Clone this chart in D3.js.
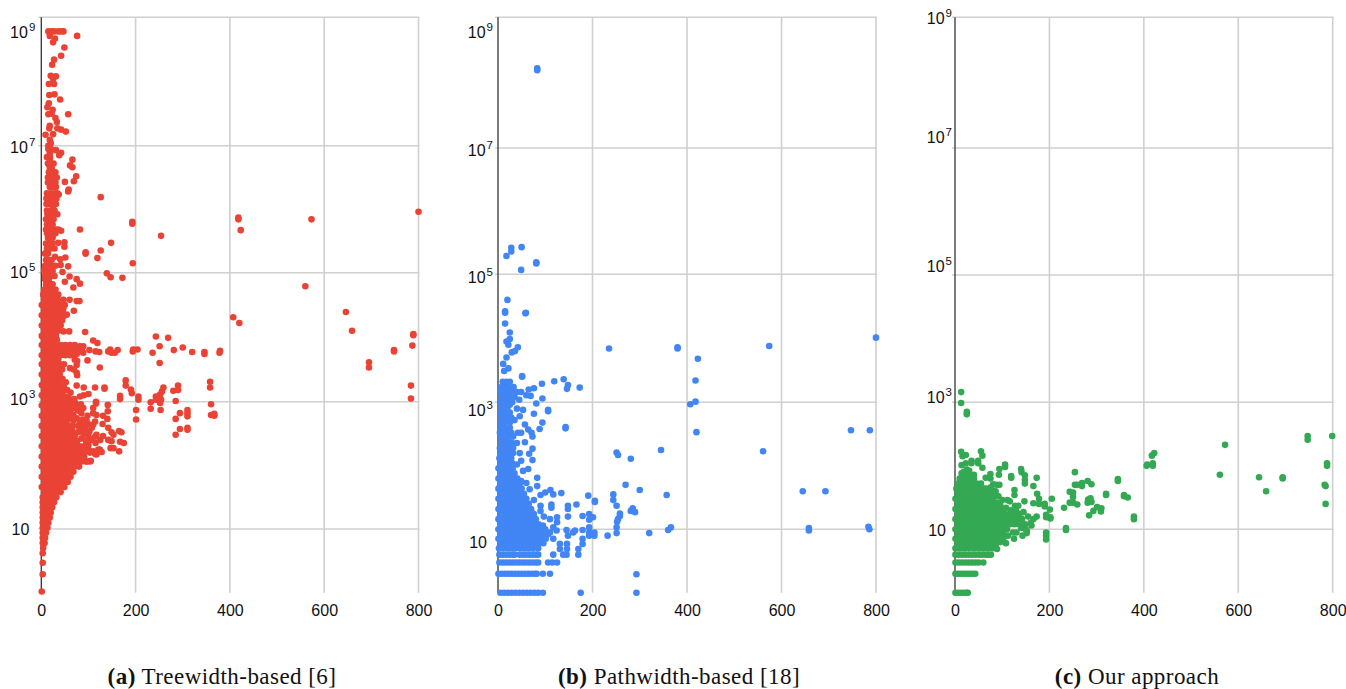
<!DOCTYPE html>
<html>
<head>
<meta charset="utf-8">
<script src="https://cdn.jsdelivr.net/npm/d3@7"></script>
<style>
  body { margin: 0; background: white; }
  svg { display: block; }
</style>
</head>
<body>
<div id="chart"></div>
<script>
// values, y is given as its power of ten
// rows: [power, x, x, x ...]   scatter: [x, power]
const xTicks = [0, 200, 400, 600, 800]
const yTicks = [1, 3, 5, 7, 9]
const captionTags = ['(a)', '(b)', '(c)']
const captionTexts = [' Treewidth-based [6]', ' Pathwidth-based [18]', ' Our approach']

const treewidthRows = [
  [0.02,1],[0.29,3],[0.47,3],[0.62,3],[0.7,4],[0.78,3,7],[0.86,3,8],[0.94,3,10],[1.02,3,8,13],[1.1,3,9,15],
  [1.18,3,9,15,18],[1.26,3,9,15,20],[1.34,3,10,17,23],[1.42,3,10,18,27],[1.5,3,11,21,32],[1.58,6,16,26,36,41],
  [1.66,1,11,21,31,41,49],[1.74,6,16,26,36,46,56],[1.82,1,11,21,31,41,51,62],[1.9,6,16,26,36,46,56,68],
  [1.98,1,11,21,31,41,51,61,71,80],[2.06,6,16,26,36,46,56,66,76,86,96,103],[2.14,1,11,21,31,41,51,61,71,81,91],
  [2.22,6,16,26,36,46,56,66,76,86],[2.3,1,11,21,31,41,51,61,71,81],[2.38,6,16,26,36,46,56,66,76],
  [2.46,1,11,21,31,41,51,61,71],[2.54,6,16,26,36,46,56,66],[2.62,1,11,21,31,41,51,58],
  [2.7,6,16,26,36,46,54],[2.78,1,11,21,31,41,50],[2.86,6,16,26,36,46],[2.94,1,11,21,31,41],[3.02,6,16,26,36,44],
  [3.1,1,11,21,31,41],[3.18,6,16,26,36],[3.26,1,11,21,31,40],[3.34,6,16,26,36],[3.42,1,11,21,31,39],[3.5,6,16,26,36,44],
  [3.58,1,11,21,31,40,48],[3.66,6,16,26,36],[3.72,1,11,21,31,41,51,61,71],[3.8,6,16,26,36,46,56,66,76,86],
  [3.88,1,11,21,31,41,51,61,71],[3.96,6,16,26,33],[4.02,1,11,21,31],[4.1,6,16,26,36],[4.18,1,11,21,31,41],[4.26,6,16,26,36,44],
  [4.34,1,11,21,31,41],[4.42,6,16,26,36,46],[4.5,1,11,21,31,40,50],[4.58,6,16,26,35,47,60],[4.66,4,12,20,28,36],
  [4.74,6,14,22,30],[4.82,10,18,24],[4.9,8,16],[4.95,8,14,20,28],[5.03,6,12,18,24],[5.11,8,16,24,30],[5.2,10,14,22],
  [5.3,8,14],[5.38,12,20],[5.46,10,18,24],
  [5.55,14,18,24],[5.62,12,18,24,30],[5.68,10,16,22,30,36],[5.76,12,18,24],[5.84,10,18,26],[5.92,16,22],[5.98,12,20,28],[6.08,18,24],
  [6.17,18,26,32],[6.25,12,20,28,34],[6.35,18,25,31],[6.42,14,22,30],[6.5,14,20,28,33],[6.58,16,24,30],[6.65,18,22],
  [6.72,14,20,26],[6.82,12,18],[6.95,15,20]
]
const treewidthScatter = [
  [15,8.78],[22,8.78],[27,8.78],[36,8.78],[42,8.78],[47,8.78],[18,8.71],[76,8.71],[29,8.67],[25,8.61],[49,8.53],[42,8.4],
  [27,8.34],[23,8.26],[20,8.09],[31,8.08],[25,8.04],[16,7.96],[27,7.96],[28,7.8],[17,7.79],[40,7.72],[16,7.66],[13,7.6],
  [24,7.56],[15,7.49],[22,7.5],[57,7.49],[30,7.43],[33,7.37],[18,7.31],[34,7.27],[42,7.25],[52,7.22],[17,7.27],[9,7.17],
  [25,7.18],[18,7.09],[15,7],[20,7.04],[31,6.93],[18,6.88],[42,6.89],[38,6.85],[66,6.78],[18,6.78],[17,6.7],[61,6.69],
  [66,6.66],[74,6.52],[69,6.44],[50,6.43],[58,6.31],[57,6.28],[126,6.19],[37,6.23],[11,6.17],[11,6.08],[31,6.08],[25,6],
  [34,5.92],[13,5.92],[193,5.8],[193,5.77],[82,5.68],[42,5.66],[254,5.58],[49,5.48],[36,5.47],[148,5.47],[49,5.41],[28,5.38],
  [126,5.35],[94,5.32],[94,5.3],[11,5.32],[119,5.23],[51,5.24],[29,5.25],[40,5.21],[41,5.12],[57,5.1],[194,5.15],[45,5.01],
  [139,4.99],[147,4.93],[172,4.92],[60,4.94],[75,4.9],[82,4.83],[50,4.86],[68,4.77],[47,4.09],[59,4.09],[93,4.08],[243,4.01],
  [269,3.99],[110,3.95],[119,3.91],[251,3.86],[300,3.84],[146,3.81],[142,3.78],[149,3.76],[162,3.8],[156,3.76],[195,3.81],
  [204,3.81],[194,3.78],[123,3.77],[115,3.78],[102,3.8],[236,3.76],[281,3.8],[320,3.77],[346,3.77],[346,3.74],[379,3.79],
  [378,3.76],[251,3.6],[98,3.64],[124,3.53],[71,3.65],[76,3.63],[75,3.57],[61,3.52],[69,3.5],[75,3.45],[76,3.41],[179,3.33],
  [179,3.25],[75,3.25],[90,3.22],[114,3.22],[134,3.22],[134,3.2],[167,3.09],[167,3.04],[190,3.19],[192,3.13],[206,3.08],[206,3.03],
  [259,3.22],[256,3.16],[252,3.11],[243,3.08],[243,3.03],[254,3.03],[252,2.98],[232,2.99],[232,2.89],[253,2.87],[201,2.87],[201,2.72],
  [290,3.25],[280,3.17],[290,3.18],[285,3.01],[285,2.73],[294,2.82],[310,2.87],[310,2.82],[310,2.77],[294,2.57],[310,2.59],[310,2.56],
  [285,2.48],[358,3.31],[358,3.22],[360,2.96],[360,2.79],[367,2.81],[367,2.78],[418,5.87],[418,5.84],[423,5.67],[573,5.84],[800,5.96],
  [560,4.79],[407,4.31],[420,4.22],[646,4.39],[659,4.1],[789,4.03],[789,4.05],[787,3.87],[748,3.78],[748,3.8],[695,3.61],[695,3.53],
  [784,3.25],[784,3.05],[141,2.95],[141,2.85],[116,3],[116,2.97],[131,2.78],[140,2.73],[130,2.65],[142,2.59],[149,2.52],[131,2.46],
  [153,2.48],[142,2.4],[149,2.38],[165,2.54],[170,2.52],[167,2.37],[175,2.35],[147,2.27],[153,2.27],[165,2.22],[121,2.25],[110,2.9],
  [110,2.82],[117,2.79],[114,2.69],[107,2.59],[110,2.64],[102,2.53],[117,2.48],[114,2.45],[98,2.78],[88,2.72],[89,2.9],[76,2.94],
  [64,3],[57,3],[82,3.08],[100,3.12],[90,3.1],[68,2.9],[75,2.74],[61,2.82],[103,2.2],[114,2.18],[124,2.25],[110,2.22],[96,2.06],
  [105,2.07],[117,2.17],[128,2.21],
  [45,3.35],[52,3.3],[48,3.22],[55,3.18],[62,3.14],[45,3.14],[50,3.08],[58,3.06],[70,3.04],[52,2.98],[72,2.98],[84,2.96],[48,2.9],[58,2.92],
  [78,2.86],[58,2.84],[68,2.8],[85,2.82],[60,2.74],[68,2.7],[82,2.68],[96,2.7],[66,2.62],[78,2.62],[90,2.62],[102,2.64],[84,2.56],[94,2.56],
  [78,2.52],[90,2.48],[100,2.46],[85,2.42],[95,2.38],[105,2.4],[90,2.3],[100,2.32],[115,2.35],[125,2.4],[100,2.25],[92,2.22],
  [82,3.86],[89,3.86],[82,3.78],[89,3.76],[75,3.74],[54,4.35],[47,4.32],[69,4.41],[75,4.56],[81,4.56],[47,4.46]
]

const pathwidthRows = [
  [0,5,13,21,29,37,45,53,61,69,77,85,95],[0.3,1,8,15,22,29,36,43,50,57,64,71,78,82,95,110],
  [0.477,3,10,17,24,31,38,45,52,59,66,73,80,85,106,115,125],[0.6,3,10,17,24,31,35,46,53,60,67,74,80,85,117,138,145,170],
  [0.7,2,11,20,29,38,47,56,65,74,85],[0.78,6,16,26,36,46,56,66,76,86,96],[0.85,1,11,21,31,41,51,61,71,81,91,101],
  [0.92,6,16,26,36,46,56,66,76,86,96,106],[1,1,11,21,31,41,51,61,71,81,91,100],[1.08,6,16,26,36,46,56,66,76,86],
  [1.16,1,11,21,31,41,51,61,70,80],[1.24,6,16,26,36,46,56,66,76],[1.32,1,11,21,31,41,50,60,70],[1.4,6,16,26,36,45,55,65],
  [1.48,1,11,21,31,40,50,60],[1.56,6,16,26,35,45,55],[1.64,1,11,21,30,40,50],[1.72,6,16,26,36,46],[1.8,1,11,21,31,41],[1.88,6,16,25,35],
  [1.96,1,11,21,31],[2.04,6,16,22,30],[2.12,3,11,20,28],[2.2,6,14,24,32],[2.28,4,12,22,32],[2.36,8,16,22,30],[2.44,6,13,23],
  [2.52,4,12,18,28],[2.6,7,15,25],[2.68,5,13,25],[2.76,8,18,28],[2.84,5,13,25],[2.92,8,14,20],[3,6,14,22,30],
  [3.08,8,16,24,35],[3.16,5,12,20,30,40],[3.24,7,15,23,33],[3.32,10,18,25]
]
const pathwidthScatter = [
  [175,0],[293,0],[293,0.29],[25,2.96],[45,3.04],[40,2.9],[53,2.88],[46,2.78],[35,2.72],[57,2.65],[64,2.57],[71,2.52],[73,2.46],
  [42,2.52],[49,2.52],[32,2.46],[57,2.37],[40,2.36],[73,2.27],[66,2.19],[46,2.2],[73,2.09],[64,1.95],[49,2.08],[40,2.02],[53,1.92],
  [83,1.81],[83,1.68],[60,1.73],[49,1.76],[67,1.63],[76,1.46],[90,1.54],[100,1.58],[111,1.62],[117,1.55],[134,1.57],[90,1.37],[90,1.29],
  [113,1.39],[113,1.34],[71,1.27],[97,1.2],[110,1.16],[125,1.19],[125,1.11],[95,1.06],[117,1.03],[124,0.98],[110,0.95],[117,0.85],
  [131,0.69],[146,0.69],[170,0.69],[131,0.77],[146,0.77],[179,0.77],[179,0.85],[232,0.9],[251,0.94],[251,1.03],[252,1.12],[254,1.16],
  [258,1.21],[258,1.25],[193,0.95],[193,0.9],[204,0.95],[204,0.9],[193,1.03],[179,0.99],[163,0.98],[159,0.95],[148,0.9],[145,0.99],
  [201,1.19],[193,1.24],[193,1.15],[179,1.21],[148,1.37],[148,1.32],[148,1.2],[166,1.39],[205,1.45],[205,1.43],[191,1.53],[244,1.55],
  [244,1.46],[251,1.37],[300,1.62],[270,1.7],[357,1.54],[281,1.29],[285,1.33],[290,1.27],[320,0.94],[360,0.99],[366,1.03],[345,2.25],
  [281,2.11],[251,2.21],[254,2.17],[143,2.61],[143,2.59],[106,2.86],[106,2.88],[94,3.06],[81,2.98],[76,2.82],[94,2.68],[88,2.58],[173,3.23],
  [146,3.21],[148,3.27],[139,3.36],[119,3.33],[93,3.29],[76,3.22],[65,3.2],[69,3.1],[60,3.11],[49,3.16],[51,3.4],[235,3.84],[380,3.86],
  [380,3.84],[58,4.39],[50,5.43],[28,5.42],[28,5.36],[18,5.29],[81,5.19],[81,5.17],[49,5.07],[20,4.6],[15,4.42],[15,4.4],[59,4.4],[15,4.23],
  [25,4.09],[25,3.99],[18,3.95],[22,3.9],[42,3.86],[36,3.8],[29,3.78],[18,3.7],[11,3.6],[22,3.53],[13,3.49],[51,3.41],[83,8.22],[83,8.19],
  [574,3.88],[423,3.68],[418,3.34],[418,3.01],[407,2.97],[420,2.53],[561,2.23],[645,1.6],[693,1.6],[658,0.98],[658,1.02],
  [747,2.56],[787,2.56],[784,1.04],[786,1],[800,4.01]
]

const ourRows = [
  [0,1,7,13,19,25,27],[0.3,1,7,13,19,25,31,37,43],[0.477,1,8,15,22,29,36,43,50,60],[0.6,1,8,15,22,29,36,43,50,57,64,70,76],
  [0.7,1,10,20,30,40,50,60,70,80],[0.78,6,16,26,36,46,56,66,76,84],[0.85,1,11,21,31,41,51,61,71,81,90],
  [0.92,6,16,26,36,46,56,66,76,86,96,102],[1,1,11,21,31,41,51,61,71,81,91,101,110],
  [1.08,6,16,26,36,46,56,66,76,86,96,106,116,126,136,148],[1.16,1,11,21,31,41,51,61,71,81,91,101,111,121,131,142],
  [1.24,6,16,26,36,46,56,66,76,86,96,106,116,126,136],[1.32,1,11,21,31,41,51,61,71,81,91,101],
  [1.4,6,16,26,36,46,56,66,76,86],[1.48,1,11,21,31,41,51,61,71,80],[1.56,6,16,26,36,46,56,66,72],
  [1.64,3,11,21,31,41,51,61,66],[1.72,6,16,26,36,46,55],[1.8,10,18,26,34,40],[1.88,14,22,28]
]
const ourScatter = [
  [13,3.16],[13,2.99],[25,2.85],[25,2.81],[13,2.22],[16,2.15],[23,2.17],[55,2.23],[58,2.16],[35,2.08],[35,2.04],[49,2.08],[49,2.04],
  [14,2.01],[23,2.04],[58,1.97],[25,1.94],[94,1.95],[106,2.02],[106,1.98],[140,1.95],[141,1.9],[75,1.87],[93,1.86],[119,1.84],[119,1.81],
  [148,1.85],[148,1.78],[173,1.81],[65,1.81],[75,1.8],[148,1.72],[94,1.7],[81,1.71],[166,1.68],[126,1.62],[126,1.54],[174,1.56],[82,1.6],
  [82,1.53],[205,1.48],[178,1.48],[178,1.4],[166,1.41],[190,1.4],[190,1.36],[147,1.44],[111,1.46],[116,1.44],[127,1.37],[134,1.37],[201,1.31],
  [231,1.34],[193,1.23],[202,1.19],[202,1.17],[173,1.2],[166,1.16],[193,1.19],[162,1.06],[235,1.02],[235,0.99],[193,0.95],[193,0.9],[193,0.84],
  [143,0.9],[152,0.98],[152,0.94],[130,0.95],[123,0.95],[102,0.84],[89,0.69],[254,1.9],[254,1.7],[259,1.7],[269,1.73],[269,1.68],[281,1.76],
  [289,1.71],[243,1.59],[250,1.58],[250,1.51],[243,1.42],[250,1.42],[259,1.39],[282,1.47],[287,1.49],[281,1.42],[289,1.43],[284,1.22],[293,1.29],
  [301,1.35],[310,1.33],[309,1.28],[320,1.56],[320,1.54],[345,1.79],[345,1.76],[358,1.54],[358,1.52],[366,1.5],[379,1.2],[379,1.16],[406,2],
  [422,2.2],[417,2.16],[407,2.02],[419,2.04],[419,2],[572,2.33],[561,1.86],[644,1.82],[659,1.6],[694,1.82],[694,1.8],[747,2.47],[747,2.41],
  [799,2.47],[788,2.04],[788,2],[783,1.7],[785,1.68],[785,1.4],
  [88,1.7],[76,1.66],[86,1.6],[72,1.58],[92,1.52],[100,1.46],[88,1.42],[96,1.38],[108,1.34],[118,1.3],[130,1.28],[145,1.27],[155,1.2],
  [160,1.1],[150,1],[140,1.02],[125,0.85],[112,0.9],[108,0.78],[96,0.8],[88,0.78],[40,1.86],[30,1.92],[18,1.9]
]

function toPoints(rows, scatter) {
  const fromRows = rows.flatMap(r => r.slice(1).map(x => [x, r[0]]))
  return fromRows.concat(scatter).map(p => ({ x: p[0], y: Math.pow(10, p[1]) }))
}

const panels = [
  { x0: 41.3, x800: 418.5, color: '#ea4335', points: toPoints(treewidthRows, treewidthScatter),
    grid: [592.7, 529, 401.7, 272.7, 145.7, 17.3], labelShift: [0, -2.5, 0, 1.5, 15], labelGap: 6, cap: 222 },
  { x0: 498, x800: 876, color: '#4285f4', points: toPoints(pathwidthRows, pathwidthScatter),
    grid: [592.7, 529.3, 402.3, 274.3, 148, 17.3], labelShift: [13, 8, 3, 2, 15], labelGap: 5, cap: 679 },
  { x0: 955, x800: 1332.7, color: '#34a853', points: toPoints(ourRows, ourScatter),
    grid: [592.7, 529.3, 402.3, 275, 148, 17.3], labelShift: [1, -5, -9, -11, 1], labelGap: 3, cap: 1137 }
]

const svg = d3.select('#chart').append('svg')
  .attr('width', 1346)
  .attr('height', 689)
  .style('background', 'white')

panels.forEach(function (p, i) {
  const xScale = d3.scaleLinear().domain([0, 800]).range([p.x0, p.x800])
  const yScale = d3.scaleLog().domain([1, 10, 1e3, 1e5, 1e7, 1e9]).range(p.grid)
  const g = svg.append('g')

  g.selectAll('line.h')
    .data(yTicks)
    .enter()
    .append('line')
    .attr('class', 'h')
    .attr('x1', p.x0 - 3)
    .attr('x2', p.x800 + 1)
    .attr('y1', d => yScale(Math.pow(10, d)))
    .attr('y2', d => yScale(Math.pow(10, d)))
    .attr('stroke', '#d0d0d0')
    .attr('stroke-width', 1.6)

  g.selectAll('line.v')
    .data(xTicks.slice(1))
    .enter()
    .append('line')
    .attr('class', 'v')
    .attr('x1', d => xScale(d))
    .attr('x2', d => xScale(d))
    .attr('y1', yScale(1e9))
    .attr('y2', yScale(1))
    .attr('stroke', '#d0d0d0')
    .attr('stroke-width', 1.6)

  // the dark line at x = 0
  g.append('line')
    .attr('x1', xScale(0))
    .attr('x2', xScale(0))
    .attr('y1', yScale(1e9))
    .attr('y2', yScale(1))
    .attr('stroke', '#333')
    .attr('stroke-width', 1.3)

  g.selectAll('circle')
    .data(p.points)
    .enter()
    .append('circle')
    .attr('cx', d => xScale(d.x))
    .attr('cy', d => yScale(d.y))
    .attr('r', 3.3)
    .attr('fill', p.color)

  const xAxis = d3.axisBottom(xScale).tickValues(xTicks).tickSize(0).tickPadding(0).tickFormat(d3.format('d'))
  const ax = g.append('g').attr('transform', 'translate(0,' + 605 + ')').call(xAxis)
  ax.select('.domain').remove()
  ax.selectAll('text')
    .attr('font-family', '"Liberation Sans", Arial, sans-serif')
    .attr('font-size', 16)
    .attr('fill', '#111')

  const labels = g.selectAll('text.ylab')
    .data(yTicks)
    .enter()
    .append('text')
    .attr('class', 'ylab')
    .attr('x', d => xScale(0) - p.labelGap - (d === 1 ? 6 : 0))
    .attr('y', (d, j) => yScale(Math.pow(10, d)) + p.labelShift[j])
    .attr('dy', '0.36em')
    .attr('text-anchor', 'end')
    .attr('font-family', '"Liberation Sans", Arial, sans-serif')
    .attr('font-size', 16)
    .attr('fill', '#111')
  labels.append('tspan').text('10')
  labels.filter(d => d !== 1).append('tspan')
    .attr('dy', -7)
    .attr('dx', 1)
    .attr('font-size', 11.5)
    .text(d => d)

  const caption = g.append('text')
    .attr('x', p.cap)
    .attr('y', 684)
    .attr('text-anchor', 'middle')
    .attr('font-family', '"Liberation Serif", serif')
    .attr('font-size', 23)
    .attr('letter-spacing', 0.45)
    .attr('fill', '#111')
  caption.append('tspan').attr('font-weight', 'bold').text(captionTags[i])
  caption.append('tspan').text(captionTexts[i])
})
</script>
</body>
</html>
